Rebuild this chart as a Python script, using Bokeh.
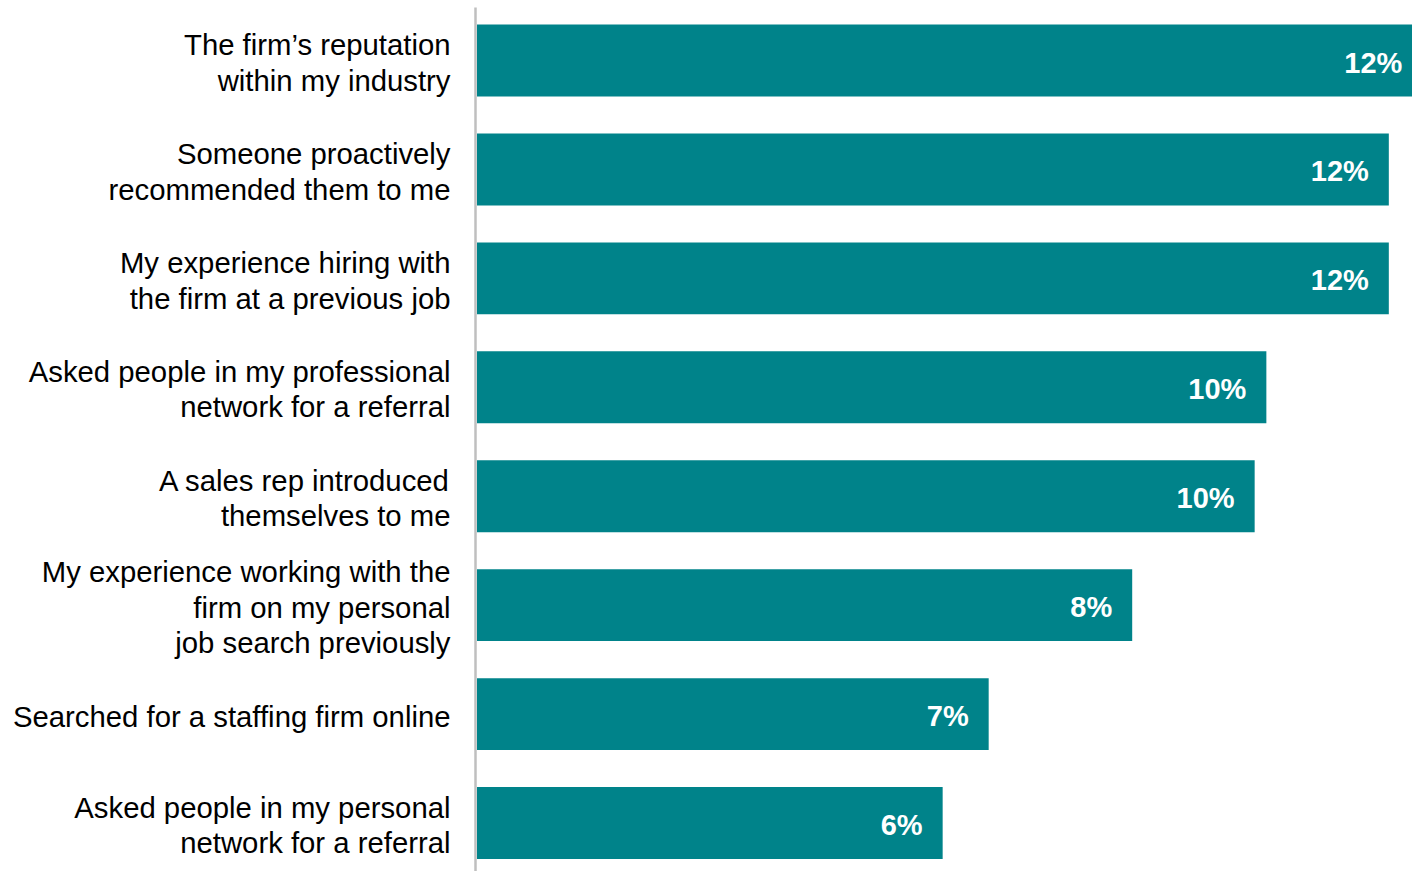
from bokeh.plotting import figure
from bokeh.models import Range1d, ColumnDataSource
from bokeh.embed import file_html
from bokeh.resources import INLINE
from bokeh.core.properties import value

categories = [
    "The firm\u2019s reputation\nwithin my industry",
    "Someone proactively\nrecommended them to me",
    "My experience hiring with\nthe firm at a previous job",
    "Asked people in my professional\nnetwork for a referral",
    "A sales rep introduced\nthemselves to me",
    "My experience working with the\nfirm on my personal\njob search previously",
    "Searched for a staffing firm online",
    "Asked people in my personal\nnetwork for a referral",
]
values = [12.12, 11.69, 11.69, 10.12, 9.97, 8.40, 6.56, 5.97]
value_labels = ["12%", "12%", "12%", "10%", "10%", "8%", "7%", "6%"]

W, H = 1412, 871
left_px = 476.5        # pixel where zero sits
px_per_unit = 78.0
row_px = 108.93
first_center_px = 60.0

x0 = -left_px / px_per_unit
x1 = (W - left_px) / px_per_unit
y_top = -first_center_px / row_px
y_bot = (H - first_center_px) / row_px

p = figure(width=W, height=H, output_backend="svg", toolbar_location=None,
           x_range=Range1d(x0, x1), y_range=Range1d(y_bot, y_top),
           min_border=0, min_border_left=0, min_border_right=0,
           min_border_top=0, min_border_bottom=0)
p.axis.visible = False
p.grid.visible = False
p.outline_line_color = None
p.background_fill_color = "white"
p.border_fill_color = "white"

idx = list(range(len(categories)))
src = ColumnDataSource(dict(y=idx, v=values, cat=categories, lab=value_labels,
                            zero=[0] * len(idx)))

p.hbar(y="y", left="zero", right="v", height=0.66, source=src,
       fill_color="#00838A", line_color=None)

# axis line
ax_x = -1.5 / px_per_unit
p.segment(x0=[ax_x], x1=[ax_x], y0=[(7 - first_center_px) / row_px], y1=[y_bot],
          line_color="#BFBFBF", line_width=2.5)

# category labels
lab_x = (450 - left_px) / px_per_unit
src2 = ColumnDataSource(dict(y=idx, x=[lab_x] * len(idx), cat=categories))
p.text(x="x", y="y", text="cat", source=src2, text_align="right",
       text_baseline="middle", y_offset=2, text_font=value("Liberation Sans"),
       text_font_size="29.3px", text_color="#000000", text_line_height=1.07)

# value labels
p.text(x="v", y="y", text="lab", source=src, text_align="right",
       text_baseline="middle", x_offset=-20, y_offset=2,
       text_font=value("Liberation Sans"),
       text_font_size="29px", text_font_style="bold", text_color="white")

open("out.html", "w").write(file_html(p, INLINE))
